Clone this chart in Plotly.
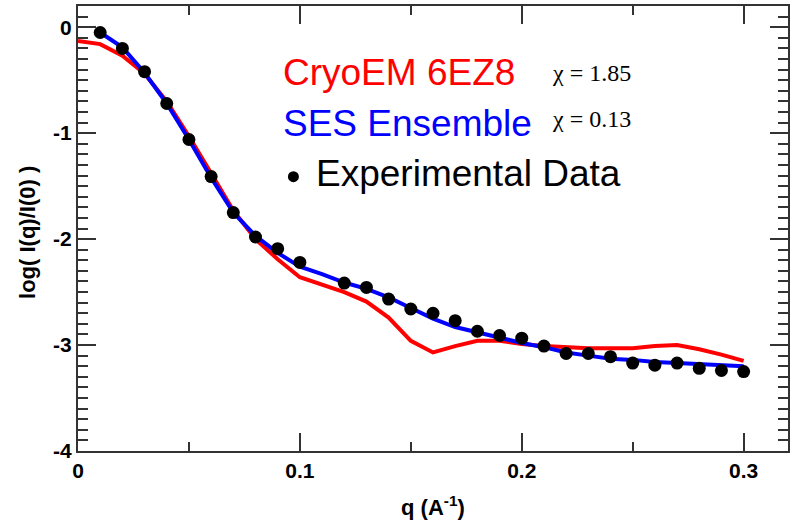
import plotly.graph_objects as go

# Experimental data
q_exp = [0.01, 0.02, 0.03, 0.04, 0.05, 0.06, 0.07, 0.08, 0.09, 0.10,
         0.12, 0.13, 0.14, 0.15, 0.16, 0.17, 0.18, 0.19, 0.20,
         0.21, 0.22, 0.23, 0.24, 0.25, 0.26, 0.27, 0.28, 0.29, 0.30]
logI_exp = [-0.05, -0.20, -0.42, -0.72, -1.06, -1.41, -1.75, -1.98, -2.09, -2.22,
            -2.415, -2.456, -2.566, -2.66, -2.70, -2.77, -2.87, -2.91, -2.935,
            -3.01, -3.08, -3.08, -3.11, -3.17, -3.19, -3.17, -3.22, -3.24, -3.25]

# SES Ensemble fit
q_ses = [0.01, 0.02, 0.03, 0.04, 0.05, 0.06, 0.07, 0.08, 0.09, 0.10,
         0.11, 0.12, 0.13, 0.14, 0.15, 0.16, 0.17, 0.18, 0.19, 0.20,
         0.21, 0.22, 0.23, 0.24, 0.25, 0.26, 0.27, 0.28, 0.29, 0.30]
logI_ses = [-0.05, -0.19, -0.43, -0.72, -1.06, -1.42, -1.75, -1.97, -2.13, -2.26,
            -2.33, -2.41, -2.47, -2.55, -2.65, -2.75, -2.83, -2.88, -2.93, -2.98,
            -3.02, -3.07, -3.10, -3.13, -3.14, -3.16, -3.17, -3.18, -3.19, -3.20]

# CryoEM 6EZ8 fit
q_cryo = [0.0, 0.01, 0.02, 0.03, 0.04, 0.05, 0.06, 0.07, 0.08, 0.09, 0.10,
          0.11, 0.12, 0.13, 0.14, 0.15, 0.16, 0.17, 0.18, 0.19, 0.20,
          0.21, 0.22, 0.23, 0.24, 0.25, 0.26, 0.27, 0.28, 0.29, 0.30]
logI_cryo = [-0.13, -0.16, -0.27, -0.44, -0.70, -1.03, -1.38, -1.73, -2.00, -2.19, -2.36,
             -2.43, -2.50, -2.59, -2.74, -2.96, -3.07, -3.01, -2.96, -2.96, -2.99,
             -3.01, -3.02, -3.03, -3.03, -3.03, -3.01, -3.00, -3.04, -3.09, -3.15]

y_tickvals = [0, -1, -2, -3, -4]
y_ticktext = ["0", "-1", "-2", "-3", "-4"]
x_tickvals = [0, 0.1, 0.2, 0.3]
x_ticktext = ["0", "0.1", "0.2", "0.3"]

labels = ["CryoEM 6EZ8", "SES Ensemble", "Experimental Data"]
chi_text = ["χ = 1.85", "χ = 0.13"]

fig = go.Figure()
fig.add_trace(go.Scatter(x=q_cryo, y=logI_cryo, mode="lines",
                         line=dict(color="#ff0000", width=4), name=labels[0]))
fig.add_trace(go.Scatter(x=q_ses, y=logI_ses, mode="lines",
                         line=dict(color="#0000ff", width=4), name=labels[1]))
fig.add_trace(go.Scatter(x=q_exp, y=logI_exp, mode="markers",
                         marker=dict(color="black", size=13), name=labels[2]))

axis_common = dict(
    showgrid=False, zeroline=False, showline=True, linecolor="#333333", linewidth=2,
    mirror="ticks", ticks="inside", ticklen=18, tickwidth=1.5, tickcolor="#333333",
    tickfont=dict(family="Liberation Sans, Arial", size=21, color="black", weight="bold"),
)

fig.update_layout(
    width=790, height=525,
    margin=dict(l=78, r=0, t=6, b=74),
    paper_bgcolor="white", plot_bgcolor="white",
    showlegend=False,
    xaxis=dict(range=[0, 0.32], tickvals=x_tickvals, ticktext=x_ticktext,
               minor=dict(ticks="inside", ticklen=9, dtick=0.05, tickwidth=1.5, tickcolor="#333333"),
               **axis_common),
    yaxis=dict(range=[-4, 0.2], tickvals=y_tickvals, ticktext=y_ticktext,
               minor=dict(ticks="inside", ticklen=10, dtick=0.1, tick0=0, tickwidth=1.5, tickcolor="#333333"),
               **axis_common),
)

font_lbl = "Liberation Sans, Arial"
fig.add_annotation(xref="paper", yref="paper", x=0.286, y=0.851, xanchor="left", yanchor="middle",
                   text=labels[0], showarrow=False,
                   font=dict(family=font_lbl, size=37, color="#ff0000"))
fig.add_annotation(xref="paper", yref="paper", x=0.286, y=0.737, xanchor="left", yanchor="middle",
                   text=labels[1], showarrow=False,
                   font=dict(family=font_lbl, size=37, color="#0000ff"))
fig.add_annotation(xref="paper", yref="paper", x=0.333, y=0.6225, xanchor="left", yanchor="middle",
                   text=labels[2], showarrow=False,
                   font=dict(family=font_lbl, size=37, color="black"))
fig.add_annotation(xref="paper", yref="paper", x=0.665, y=0.849, xanchor="left", yanchor="middle",
                   text=chi_text[0], showarrow=False,
                   font=dict(family="Liberation Serif, Times New Roman", size=24, color="black"))
fig.add_annotation(xref="paper", yref="paper", x=0.665, y=0.745, xanchor="left", yanchor="middle",
                   text=chi_text[1], showarrow=False,
                   font=dict(family="Liberation Serif, Times New Roman", size=24, color="black"))
# bullet glyph for "Experimental Data"
fig.add_shape(type="circle", xref="paper", yref="paper", xsizemode="pixel", ysizemode="pixel",
              xanchor=0.3034, yanchor=0.6164, x0=-5.5, x1=5.5, y0=-5.5, y1=5.5,
              fillcolor="black", line=dict(width=0))

# axis titles
fig.add_annotation(xref="paper", yref="paper", x=0.5, y=-0.124, xanchor="center", yanchor="middle",
                   text="<b>q (A<sup>-1</sup>)</b>", showarrow=False,
                   font=dict(family=font_lbl, size=22, color="black"))
fig.add_annotation(xref="paper", yref="paper", x=-0.072, y=0.492, xanchor="center", yanchor="middle",
                   text="<b>log( I(q)/I(0) )</b>", showarrow=False, textangle=-90,
                   font=dict(family=font_lbl, size=22, color="black"))

fig.write_html("out.html")
